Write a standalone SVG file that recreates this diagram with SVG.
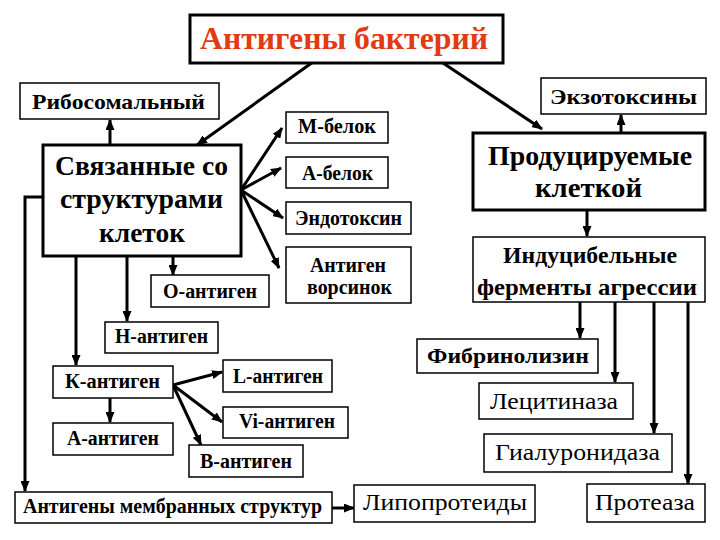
<svg xmlns="http://www.w3.org/2000/svg" width="720" height="540" viewBox="0 0 720 540">
<defs>
<marker id="ah" markerUnits="userSpaceOnUse" markerWidth="11" markerHeight="9" refX="10" refY="4.5" orient="auto">
<path d="M0,0 L11,4.5 L0,9 z" fill="#000"/>
</marker>
<style>
.b{fill:#fff;stroke:#000;stroke-width:1.5}
.bt{fill:#fff;stroke:#000;stroke-width:3}
text{font-family:"Liberation Serif","Times New Roman",serif;font-weight:bold;fill:#000;text-anchor:middle}
.n{font-weight:normal;font-size:24px}
.s{font-size:20px}
.m{font-size:22px}
.l{font-size:28px}
.c line,.c polyline{stroke:#000;stroke-width:3;fill:none;marker-end:url(#ah)}
</style>
</defs>
<rect width="720" height="540" fill="#fff"/>
<g class="c" id="connectors">
<line x1="313" y1="62" x2="197" y2="145"/>
<line x1="440" y1="61" x2="542" y2="129"/>
<line x1="110" y1="145" x2="110" y2="120"/>
<line x1="621" y1="133" x2="621" y2="115"/>
<line x1="241" y1="190" x2="282" y2="128"/>
<line x1="241" y1="190" x2="281" y2="168"/>
<line x1="241" y1="190" x2="283" y2="218"/>
<line x1="241" y1="190" x2="279" y2="268"/>
<line x1="173" y1="256" x2="173" y2="275"/>
<line x1="127" y1="256" x2="127" y2="321"/>
<line x1="76" y1="256" x2="76" y2="365"/>
<polyline points="43,197 25,197 25,491"/>
<line x1="110" y1="398" x2="110" y2="422"/>
<line x1="173" y1="385" x2="222" y2="372"/>
<line x1="173" y1="385" x2="222" y2="422"/>
<line x1="173" y1="385" x2="201" y2="445"/>
<line x1="332" y1="508" x2="354" y2="508"/>
<line x1="587" y1="210" x2="587" y2="236"/>
<line x1="580" y1="302" x2="580" y2="338"/>
<line x1="615" y1="302" x2="615" y2="382"/>
<line x1="654" y1="302" x2="654" y2="433"/>
<line x1="688" y1="302" x2="688" y2="484"/>
</g>
<g id="title"><rect class="bt" x="190" y="15" width="313" height="48"/><text x="344" y="49" textLength="288" lengthAdjust="spacingAndGlyphs" style="font-size:31px;fill:#e23a12">Антигены бактерий</text></g>
<g id="ribosomal"><rect class="b" x="20" y="83" width="199" height="36"/><text class="m" x="118.5" y="109" textLength="173" lengthAdjust="spacingAndGlyphs">Рибосомальный</text></g>
<g id="exotoxins"><rect class="b" x="541" y="78" width="165" height="36"/><text class="m" x="623.5" y="104" textLength="147" lengthAdjust="spacingAndGlyphs">Экзотоксины</text></g>
<g id="linked"><rect class="bt" x="43" y="145" width="198" height="111"/><text class="l" x="141.5" y="175" textLength="173" lengthAdjust="spacingAndGlyphs">Связанные со</text><text class="l" x="141.5" y="208" textLength="163" lengthAdjust="spacingAndGlyphs">структурами</text><text class="l" x="142" y="242" textLength="86" lengthAdjust="spacingAndGlyphs">клеток</text></g>
<g id="produced"><rect class="bt" x="473" y="133" width="232" height="77"/><text x="590" y="165" textLength="204" lengthAdjust="spacingAndGlyphs" style="font-size:27px">Продуцируемые</text><text x="588.5" y="197" textLength="107" lengthAdjust="spacingAndGlyphs" style="font-size:27px">клеткой</text></g>
<g id="m-protein"><rect class="b" x="286" y="112" width="102" height="31"/><text class="s" x="337" y="133" textLength="78" lengthAdjust="spacingAndGlyphs">М-белок</text></g>
<g id="a-protein"><rect class="b" x="286" y="157" width="102" height="31"/><text class="s" x="337.5" y="180" textLength="71" lengthAdjust="spacingAndGlyphs">А-белок</text></g>
<g id="endotoxin"><rect class="b" x="286" y="202" width="125" height="32"/><text class="s" x="348.5" y="225" textLength="107" lengthAdjust="spacingAndGlyphs">Эндотоксин</text></g>
<g id="villi"><rect class="b" x="286" y="247" width="125" height="56"/><text class="s" x="348" y="272" textLength="76" lengthAdjust="spacingAndGlyphs">Антиген</text><text class="s" x="349.5" y="294" textLength="85" lengthAdjust="spacingAndGlyphs">ворсинок</text></g>
<g id="inducible"><rect class="b" x="473" y="237" width="232" height="65"/><text x="590" y="263" textLength="174" lengthAdjust="spacingAndGlyphs" style="font-size:23px">Индуцибельные</text><text x="587" y="295" textLength="220" lengthAdjust="spacingAndGlyphs" style="font-size:23px">ферменты агрессии</text></g>
<g id="o-antigen"><rect class="b" x="151" y="275" width="118" height="32"/><text class="s" x="210" y="298" textLength="94" lengthAdjust="spacingAndGlyphs">О-антиген</text></g>
<g id="h-antigen"><rect class="b" x="105" y="322" width="113" height="31"/><text class="s" x="161.5" y="343" textLength="93" lengthAdjust="spacingAndGlyphs">Н-антиген</text></g>
<g id="k-antigen"><rect class="b" x="53" y="366" width="120" height="32"/><text class="s" x="112.5" y="388" textLength="95" lengthAdjust="spacingAndGlyphs">К-антиген</text></g>
<g id="a-antigen"><rect class="b" x="53" y="423" width="120" height="32"/><text class="s" x="113" y="445" textLength="92" lengthAdjust="spacingAndGlyphs">А-антиген</text></g>
<g id="l-antigen"><rect class="b" x="223" y="360" width="109" height="32"/><text class="s" x="278" y="383" textLength="90" lengthAdjust="spacingAndGlyphs">L-антиген</text></g>
<g id="vi-antigen"><rect class="b" x="223" y="407" width="125" height="31"/><text class="s" x="287" y="428" textLength="96" lengthAdjust="spacingAndGlyphs">Vi-антиген</text></g>
<g id="b-antigen"><rect class="b" x="189" y="445" width="114" height="32"/><text class="s" x="246" y="468" textLength="92" lengthAdjust="spacingAndGlyphs">В-антиген</text></g>
<g id="membrane"><rect class="b" x="15" y="492" width="317" height="31"/><text class="s" x="172.5" y="513" textLength="299" lengthAdjust="spacingAndGlyphs">Антигены мембранных структур</text></g>
<g id="lipoproteins"><rect class="b" x="354" y="485" width="181" height="37"/><text class="n" x="445" y="510" textLength="164" lengthAdjust="spacingAndGlyphs">Липопротеиды</text></g>
<g id="fibrinolysin"><rect class="b" x="417" y="339" width="181" height="34"/><text class="m" x="508" y="363" textLength="162" lengthAdjust="spacingAndGlyphs">Фибринолизин</text></g>
<g id="lecithinase"><rect class="b" x="479" y="383" width="154" height="36"/><text class="n" x="554" y="409" textLength="128" lengthAdjust="spacingAndGlyphs">Лецитиназа</text></g>
<g id="hyaluronidase"><rect class="b" x="484" y="434" width="188" height="38"/><text class="n" x="577.5" y="460" textLength="165" lengthAdjust="spacingAndGlyphs">Гиалуронидаза</text></g>
<g id="protease"><rect class="b" x="587" y="484" width="118" height="38"/><text class="n" x="645" y="510" textLength="100" lengthAdjust="spacingAndGlyphs">Протеаза</text></g>
</svg>
